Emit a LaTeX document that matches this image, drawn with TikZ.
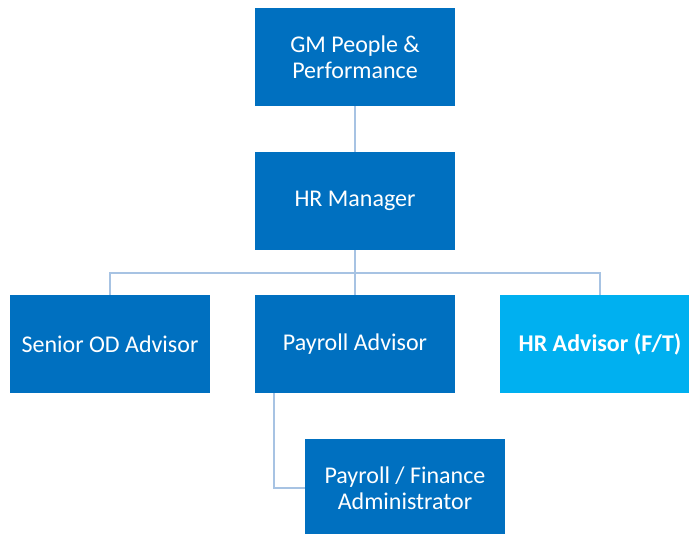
\documentclass[tikz,border=0pt]{standalone}
\usepackage{fontspec}
\setmainfont{Carlito}
\definecolor{boxblue}{HTML}{0070C0}
\definecolor{lightbox}{HTML}{00B0F0}
\definecolor{linkblue}{HTML}{A7C3E3}
\begin{document}
\begin{tikzpicture}[x=0.75pt,y=-0.75pt,
  role/.style={fill=boxblue,text=white,minimum width=150pt,minimum height=73.5pt,
    inner sep=0pt,align=center,font=\fontsize{18}{19.5}\selectfont},
  vacant/.style={role,fill=lightbox,font=\fontsize{18}{19.5}\selectfont\bfseries},
  link/.style={draw=linkblue,line width=1.6pt}]
\path[use as bounding box,clip] (0,0) rectangle (689,533);
\fill[white] (0,0) rectangle (689,533);

% reporting lines
\coordinate (soTop) at (110,273);
\coordinate (hrTop) at (600,273);

\node[role] (gm) at (355,57) {GM People \&\\Performance};
\node[role] (hm) at (355,201) {HR Manager};
\node[role] (so) at (110,344) {Senior OD Advisor};
\node[role] (pa) at (355,344) {Payroll Advisor};
\node[vacant] (hr) at (600,344) {HR Advisor (F/T)};
\node[role] (pf) at (405,488) {Payroll / Finance\\Administrator};

\draw[link] (gm.south) -- (hm.north);
\draw[link] (hm.south) -- (pa.north);
\draw[link] (so.north) -- (soTop) -- (hrTop) -- (hr.north);
\draw[link] ([xshift=14.25pt]pa.south west) |- (pf.west);
\end{tikzpicture}
\end{document}
